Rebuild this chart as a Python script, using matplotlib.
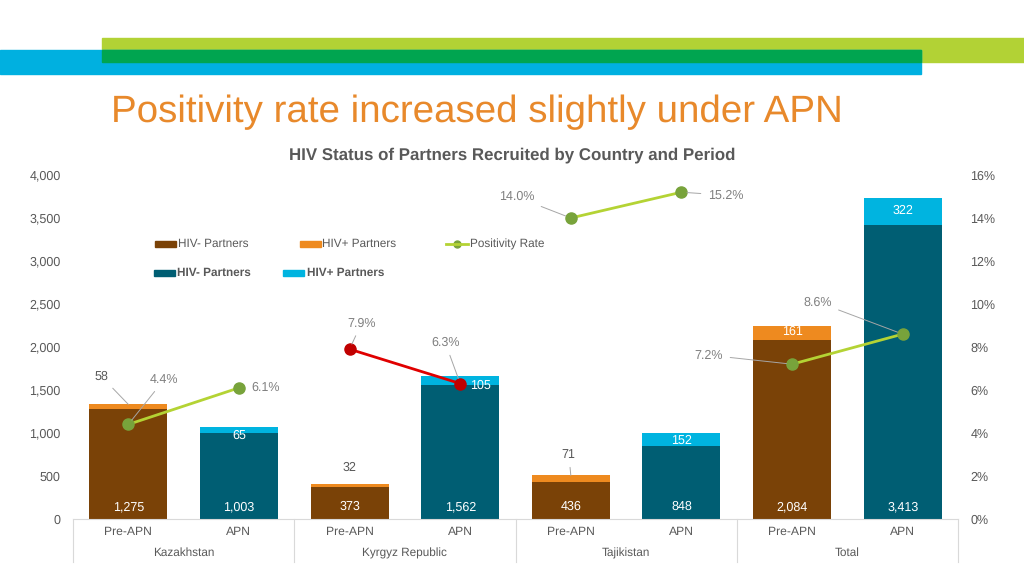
import matplotlib
matplotlib.use('Agg')
import matplotlib.pyplot as plt
from matplotlib.patches import Rectangle
from matplotlib.lines import Line2D
from matplotlib.ticker import FuncFormatter

plt.rcParams['font.family'] = ['Liberation Sans', 'DejaVu Sans']
plt.rcParams['text.hinting'] = 'no_hinting'

# data
countries = ['Kazakhstan', 'Kyrgyz Republic', 'Tajikistan', 'Total']
periods = ['Pre-APN', 'APN', 'Pre-APN', 'APN', 'Pre-APN', 'APN', 'Pre-APN', 'APN']
hiv_neg = [1275, 1003, 373, 1562, 436, 848, 2084, 3413]
hiv_pos = [58, 65, 32, 105, 71, 152, 161, 322]
pos_rate = [4.4, 6.1, 7.9, 6.3, 14.0, 15.2, 7.2, 8.6]

BROWN = '#7A4207'
ORANGE = '#EE8A1F'
TEAL = '#005E73'
CYAN = '#00B4E0'
LINE_GREEN = '#B4D334'
MARK_GREEN = '#78A33B'
RED = '#E00000'
DARK_RED = '#C00000'
GRAY = '#595959'
LGRAY = '#808080'

fig = plt.figure(figsize=(10.24, 5.76), dpi=100)

# decorative header bars (figure pixels -> fraction)
W, H = 1024, 576
def rect(x0, y0, x1, y1, c):
    fig.patches.append(Rectangle((x0 / W, 1 - y1 / H), (x1 - x0) / W, (y1 - y0) / H,
                                 transform=fig.transFigure, color=c, zorder=0))
rect(102, 38, 1024, 62, '#B2D235')
rect(0, 50, 921, 74, '#00B0E0')
rect(102, 50, 921, 62, '#00A550')

fig.text(111 / W, 1 - 112 / H, 'Positivity rate increased slightly under APN',
         color='#E8892B', fontsize=27.7, ha='left', va='center')
fig.text(512 / W, 1 - 155 / H, 'HIV Status of Partners Recruited by Country and Period',
         color=GRAY, fontsize=12.2, fontweight='bold', ha='center', va='center')

ax = fig.add_axes([73 / W, 1 - 519 / H, (958 - 73) / W, (519 - 175) / H])
ax2 = ax.twinx()

x = list(range(len(hiv_neg)))
neg_colors = [BROWN if p == 'Pre-APN' else TEAL for p in periods]
pos_colors = [ORANGE if p == 'Pre-APN' else CYAN for p in periods]
bw = 0.705
ax.bar(x, hiv_neg, width=bw, color=neg_colors, zorder=2)
ax.bar(x, hiv_pos, width=bw, bottom=hiv_neg, color=pos_colors, zorder=2)

ax.set_xlim(-0.5, 7.5)
ax.set_ylim(0, 4000)
ax.set_yticks(range(0, 4001, 500))
ax.yaxis.set_major_formatter(FuncFormatter(lambda v, p: f'{int(v):,}'))
ax.tick_params(axis='y', length=0, pad=9, labelsize=9, labelcolor=GRAY)
ax.set_xticks([])
for s in ['top', 'right', 'left']:
    ax.spines[s].set_visible(False)
ax.spines['bottom'].set_color('#D9D9D9')

ax2.set_ylim(0, 16)
ax2.set_yticks(range(0, 17, 2))
ax2.yaxis.set_major_formatter(FuncFormatter(lambda v, p: f'{int(v)}%'))
ax2.tick_params(axis='y', length=0, pad=9, labelsize=9, labelcolor=GRAY)
for s in ['top', 'right', 'left', 'bottom']:
    ax2.spines[s].set_visible(False)

# category labels
tr = ax.get_xaxis_transform()
for i, p in enumerate(periods):
    ax.text(i, -0.038, p, transform=tr, ha='center', va='center', fontsize=8.7, color=GRAY)
for j, c in enumerate(countries):
    ax.text(2 * j + 0.5, -0.099, c, transform=tr, ha='center', va='center', fontsize=8.5, color=GRAY)
for b in [-0.5, 1.5, 3.5, 5.5, 7.5]:
    ax.plot([b, b], [0, -0.125], transform=tr, color='#D9D9D9', lw=0.8, clip_on=False)

# bottom value labels
for i, v in enumerate(hiv_neg):
    ax.text(i, 140, f'{v:,}', ha='center', va='center', color='white', fontsize=9, zorder=4)

# top segment labels: (dx, dy) in pixels, colour, leader
top_lbl = [(-27, -28, GRAY, True), (0, 8, 'white', False), (0, -17, GRAY, False),
           (20, 10, 'white', False), (-2, -21, GRAY, True), (0, 8, 'white', False),
           (0, 6, 'white', False), (0, 13, 'white', False)]
for i, (dx, dy, col, lead) in enumerate(top_lbl):
    top = hiv_neg[i] + hiv_pos[i]
    ap = dict(arrowstyle='-', color='#A6A6A6', lw=0.7, shrinkA=3, shrinkB=0) if lead else None
    ax.annotate(str(hiv_pos[i]), (i, top), xytext=(dx * 0.72, -dy * 0.72),
                textcoords='offset points', ha='center', va='center',
                color=col, fontsize=9, arrowprops=ap, zorder=4)

# positivity lines
for j in range(4):
    xs = [2 * j, 2 * j + 1]
    ys = pos_rate[2 * j:2 * j + 2]
    lc, mc = (RED, DARK_RED) if j == 1 else (LINE_GREEN, MARK_GREEN)
    ax2.plot(xs, ys, color=lc, lw=2, marker='o', markersize=8,
             markerfacecolor=mc, markeredgecolor=mc, zorder=3)

pct_lbl = [(36, -45, True), (27, 0, False), (12, -26, True), (-15, -41, True),
           (-54, -21, True), (44, 3, True), (-83, -9, True), (-85, -32, True)]
for i, (dx, dy, lead) in enumerate(pct_lbl):
    ap = dict(arrowstyle='-', color='#A6A6A6', lw=0.7, shrinkA=3, shrinkB=4) if lead else None
    ax2.annotate(f'{pos_rate[i]:.1f}%', (i, pos_rate[i]), xytext=(dx * 0.72, -dy * 0.72),
                 textcoords='offset points', ha='center', va='center',
                 color=LGRAY, fontsize=9, arrowprops=ap, zorder=4)

# legend drawn by hand
def patch(x0, y, c):
    fig.patches.append(Rectangle((x0 / W, 1 - (y + 3) / H), 21 / W, 6 / H,
                                 transform=fig.transFigure, color=c))
patch(155, 244, BROWN)
fig.text(178 / W, 1 - 244 / H, 'HIV- Partners', fontsize=8.5, color=GRAY, va='center')
patch(300, 244, ORANGE)
fig.text(322 / W, 1 - 244 / H, 'HIV+ Partners', fontsize=8.5, color=GRAY, va='center')
fig.lines.append(Line2D([446 / W, 468 / W], [1 - 244 / H] * 2, transform=fig.transFigure,
                        color=LINE_GREEN, lw=2, zorder=3))
fig.lines.append(Line2D([457 / W], [1 - 244 / H], transform=fig.transFigure,
                        color=MARK_GREEN, marker='o', markersize=5, lw=0))
fig.text(470 / W, 1 - 244 / H, 'Positivity Rate', fontsize=8.5, color=GRAY, va='center')
patch(154, 273, TEAL)
fig.text(177 / W, 1 - 273 / H, 'HIV- Partners', fontsize=8.5, color=GRAY, va='center',
         fontweight='bold')
patch(283, 273, CYAN)
fig.text(307 / W, 1 - 273 / H, 'HIV+ Partners', fontsize=8.5, color=GRAY, va='center',
         fontweight='bold')

fig.savefig('out.png', dpi=100)
